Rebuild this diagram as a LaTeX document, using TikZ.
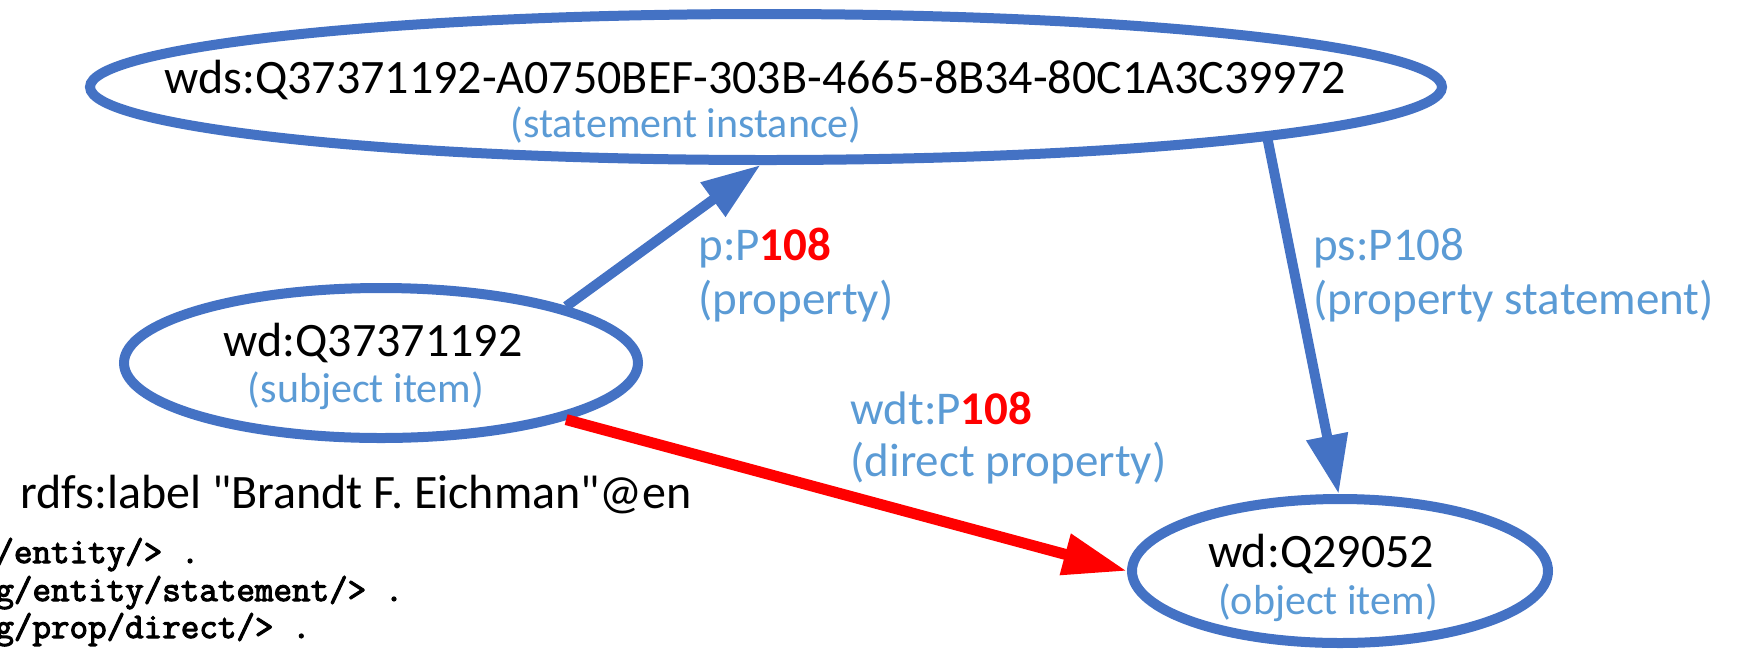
\documentclass[tikz,border=0pt]{standalone}
\usepackage{fontspec}
\setmainfont{Carlito}
\newfontfamily\plainquotes{Carlito}[Ligatures=TeXOff]
\newfontfamily\codefont{Latin Modern Mono}[FakeBold=3]
\usetikzlibrary{arrows.meta,shapes.geometric}
\definecolor{nodeblue}{HTML}{4472C4}
\definecolor{lblblue}{HTML}{5B9BD5}
\definecolor{hot}{HTML}{FF0000}

\begin{document}
\begin{tikzpicture}[x=0.5pt,y=-0.5pt,
  oval/.style={ellipse, draw=nodeblue, line width=5pt, inner sep=0pt},
  idtext/.style={font=\fontsize{24}{28}\selectfont, text=black, inner sep=0pt, anchor=base},
  subtext/.style={font=\fontsize{21}{25}\selectfont, text=lblblue, inner sep=0pt, anchor=base},
  edgetext/.style={font=\fontsize{23.5}{28}\selectfont, text=lblblue, inner sep=0pt, anchor=base west},
  link/.style={draw=nodeblue, line width=5pt, -{Triangle[length=29.5pt,width=20pt]}},
  direct/.style={draw=hot, line width=5.5pt, -{Triangle[length=32pt,width=20pt]}},
  code/.style={font=\codefont\fontsize{18}{20}\selectfont, inner sep=0pt, anchor=base west}
]
\useasboundingbox (0,0) rectangle (1742,650);

% the three resources
\node[oval, minimum width=676pt, minimum height=73pt] (stmt) at (766,87) {};
\node[oval, minimum width=257pt, minimum height=75pt] (subj) at (381,363) {};
\node[oval, minimum width=208pt, minimum height=72pt] (obj) at (1340,571) {};

\node[idtext] (stmtid) at (755,93) {wds:Q37371192-A0750BEF-303B-4665-8B34-80C1A3C39972};
\node[subtext] (stmtsub) at (686,137) {(statement instance)};
\node[idtext] (subjid) at (373,356) {wd:Q37371192};
\node[subtext] (subjsub) at (366,402) {(subject item)};
\node[idtext] (objid) at (1321,567) {wd:Q29052};
\node[subtext] (objsub) at (1328,614) {(object item)};

% predicates
\draw[link] (subj.17.5) -- (stmt.-94.4);
\draw[link] (stmt.-6.6) -- (obj.91);
\draw[direct] (subj.-17.4) -- (obj.180);

\node[edgetext] (plbl) at (698,260) {p:P\textcolor{hot}{\bfseries 108}};
\node[edgetext] (plbl2) at (698,314) {(property)};
\node[edgetext] (pslbl) at (1313,260) {ps:P108};
\node[edgetext] (pslbl2) at (1313,314) {(property statement)};
\node[edgetext] (wdtlbl) at (850,424) {wdt:P\textcolor{hot}{\bfseries 108}};
\node[edgetext] (wdtlbl2) at (850,476) {(direct property)};

\node[idtext, anchor=base west, font=\plainquotes\fontsize{24}{28}\selectfont] (rdfs) at (20,508) {rdfs:label "Brandt F. Eichman"@en};

% prefix declarations
\node[code] (pre1) at (-5,563) {/entity/> .};
\node[code] (pre2) at (-5,601) {g/entity/statement/> .};
\node[code] (pre3) at (-5,638) {g/prop/direct/> .};
\end{tikzpicture}
\end{document}
